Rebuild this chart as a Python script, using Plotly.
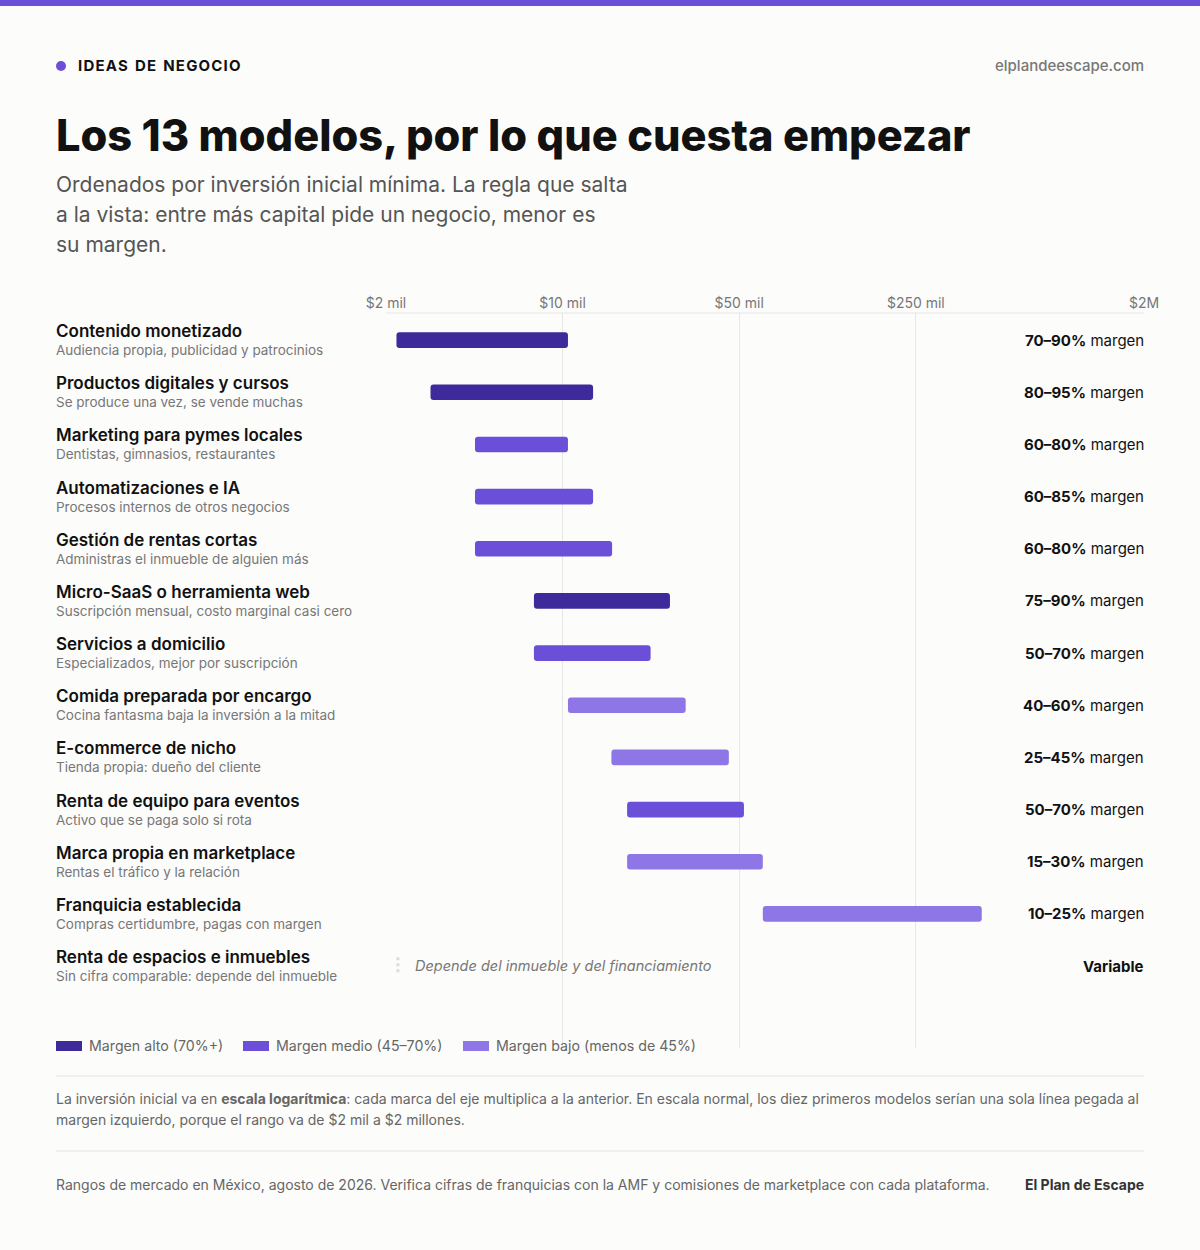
import math
import plotly.graph_objects as go

W, H = 1200, 1250

names = ["Contenido monetizado", "Productos digitales y cursos", "Marketing para pymes locales",
         "Automatizaciones e IA", "Gestión de rentas cortas", "Micro-SaaS o herramienta web",
         "Servicios a domicilio", "Comida preparada por encargo", "E-commerce de nicho",
         "Renta de equipo para eventos", "Marca propia en marketplace", "Franquicia establecida",
         "Renta de espacios e inmuebles"]
notes = ["Audiencia propia, publicidad y patrocinios", "Se produce una vez, se vende muchas",
         "Dentistas, gimnasios, restaurantes", "Procesos internos de otros negocios",
         "Administras el inmueble de alguien más", "Suscripción mensual, costo marginal casi cero",
         "Especializados, mejor por suscripción", "Cocina fantasma baja la inversión a la mitad",
         "Tienda propia: dueño del cliente", "Activo que se paga solo si rota",
         "Rentas el tráfico y la relación", "Compras certidumbre, pagas con margen",
         "Sin cifra comparable: depende del inmueble"]
inv_min = [2200, 3000, 4500, 4500, 4500, 7700, 7700, 10500, 15600, 18000, 18000, 62000]
inv_max = [10500, 13200, 10500, 13200, 15700, 26600, 22300, 30700, 45500, 52200, 62000, 456000]
margins = ["70–90%", "80–95%", "60–80%", "60–85%", "60–80%", "75–90%", "50–70%",
           "40–60%", "25–45%", "50–70%", "15–30%", "10–25%", "Variable"]
tier = ["alto", "alto", "medio", "medio", "medio", "alto", "medio", "bajo", "bajo", "medio", "bajo", "bajo"]

tier_color = {"alto": "#3f2a9c", "medio": "#6b4fd8", "bajo": "#8f76e6"}
tier_label = {"alto": "Margen alto (70%+)", "medio": "Margen medio (45–70%)", "bajo": "Margen bajo (menos de 45%)"}
tick_vals = [2000, 10000, 50000, 250000, 2000000]
tick_text = ["$2 mil", "$10 mil", "$50 mil", "$250 mil", "$2M"]

subtitle = ["Ordenados por inversión inicial mínima. La regla que salta",
            "a la vista: entre más capital pide un negocio, menor es",
            "su margen."]
footnote = ["La inversión inicial va en <b>escala logarítmica</b>: cada marca del eje multiplica a la anterior. "
            "En escala normal, los diez primeros modelos serían una sola línea pegada al",
            "margen izquierdo, porque el rango va de $2 mil a $2 millones."]

FONT = "Inter"
L = 54    # left text edge (accounts for annotation padding)
R = 1146  # right text edge


def py(p):
    return 1 - p / H


def px_(p):
    return p / W


fig = go.Figure()
fig.add_bar(
    y=list(range(len(inv_min))), base=inv_min,
    x=[b - a for a, b in zip(inv_min, inv_max)],
    orientation="h", width=0.3,
    marker=dict(color=[tier_color[t] for t in tier], cornerradius=3, line_width=0),
    hoverinfo="skip", showlegend=False,
)
# placeholder marker for the row without data
fig.add_scatter(x=[2230, 2230], y=[11.83, 12.17], mode="lines",
                line=dict(color="#dcdcdc", width=3, dash="3px,3px"),
                hoverinfo="skip", showlegend=False)

fig.update_xaxes(type="log", range=[3.30103, 6.30103], domain=[px_(386), px_(1144)],
                 side="top", tickvals=tick_vals, ticktext=tick_text,
                 tickfont=dict(family=FONT, size=14, color="#777"),
                 showgrid=True, gridcolor="#e6e6e6", gridwidth=1, zeroline=False,
                 showline=False, ticks="", ticklabelstandoff=1)
fig.update_yaxes(range=[13.57, -0.52], domain=[py(1048), py(313)], visible=False)

ann = []
shapes = []
shapes.append(dict(type="rect", xref="paper", yref="paper", x0=0, x1=1, y0=py(6), y1=1,
                   fillcolor="#6b4fd8", line_width=0))
shapes.append(dict(type="line", xref="paper", yref="paper", x0=px_(386), x1=px_(1144),
                   y0=py(313), y1=py(313), line=dict(color="#e6e6e6", width=1)))
shapes.append(dict(type="circle", xref="paper", yref="paper", x0=px_(56), x1=px_(66),
                   y0=py(71), y1=py(61), fillcolor="#6b4fd8", line_width=0))
hs = "\u200a"
ann.append(dict(x=px_(76), y=py(66), text=hs.join("IDEAS") + "  " + hs.join("DE") + "  " + hs.join("NEGOCIO"),
                xanchor="left", yanchor="middle",
                font=dict(family=FONT, size=15, color="#111", weight=700)))
ann.append(dict(x=px_(R), y=py(66), text="elplandeescape.com", xanchor="right", yanchor="middle",
                font=dict(family=FONT, size=15, color="#777", weight=500)))
ann.append(dict(x=px_(L), y=py(135), text="Los 13 modelos, por lo que cuesta empezar",
                xanchor="left", yanchor="middle",
                font=dict(family=FONT, size=43.3, color="#111", weight=800)))
for k, line in enumerate(subtitle):
    ann.append(dict(x=px_(L), y=py(184 + 30.5 * k), text=line, xanchor="left", yanchor="middle",
                    font=dict(family=FONT, size=21, color="#555")))

for i in range(len(names)):
    yc = 340 + 52.17 * i
    ann.append(dict(x=px_(L), y=py(yc - 9), text=names[i], xanchor="left", yanchor="middle",
                    font=dict(family=FONT, size=17, color="#111", weight=600)))
    ann.append(dict(x=px_(L), y=py(yc + 10), text=notes[i], xanchor="left", yanchor="middle",
                    font=dict(family=FONT, size=13.5, color="#777")))
    if i < len(inv_min):
        txt = f"<b>{margins[i]}</b> margen"
    else:
        txt = f"<b>{margins[i]}</b>"
    ann.append(dict(x=px_(R), y=py(yc), text=txt, xanchor="right", yanchor="middle",
                    font=dict(family=FONT, size=15, color="#111")))

# annotations on a log axis take log10 positions
ann.append(dict(x=math.log10(2550), y=12, xref="x", yref="y",
                text="<i>Depende del inmueble y del financiamiento</i>",
                xanchor="left", yanchor="middle", font=dict(family=FONT, size=14.5, color="#777")))

lx = 56
for t in ["alto", "medio", "bajo"]:
    shapes.append(dict(type="rect", xref="paper", yref="paper", x0=px_(lx), x1=px_(lx + 26),
                       y0=py(1051), y1=py(1041), fillcolor=tier_color[t], line_width=0))
    ann.append(dict(x=px_(lx + 31), y=py(1046), text=tier_label[t], xanchor="left", yanchor="middle",
                    font=dict(family=FONT, size=14.2, color="#666")))
    lx += {"alto": 187, "medio": 220}.get(t, 0)

for yl in (1076, 1151):
    shapes.append(dict(type="line", xref="paper", yref="paper", x0=px_(56), x1=px_(1144),
                       y0=py(yl), y1=py(yl), line=dict(color="#e3e3e3", width=1)))

for k, line in enumerate(footnote):
    ann.append(dict(x=px_(L), y=py(1098 + 21 * k), text=line, xanchor="left", yanchor="middle",
                    font=dict(family=FONT, size=14, color="#666")))
ann.append(dict(x=px_(L), y=py(1184), text="Rangos de mercado en México, agosto de 2026. Verifica cifras de franquicias con la AMF y comisiones de marketplace con cada plataforma.",
                xanchor="left", yanchor="middle", font=dict(family=FONT, size=14, color="#666")))
ann.append(dict(x=px_(R), y=py(1184), text="<b>El Plan de Escape</b>", xanchor="right", yanchor="middle",
                font=dict(family=FONT, size=14, color="#333")))

for a in ann:
    a.setdefault("xref", "paper")
    a.setdefault("yref", "paper")
    a["showarrow"] = False

fig.update_layout(width=W, height=H, margin=dict(l=0, r=0, t=0, b=0, autoexpand=False),
                  paper_bgcolor="#fcfcfb", plot_bgcolor="#fcfcfb",
                  annotations=ann, shapes=shapes, bargap=0.7)
fig.write_html("out.html", config={"displayModeBar": False},
               post_script="document.body.style.margin='0';document.body.style.overflow='hidden';")
